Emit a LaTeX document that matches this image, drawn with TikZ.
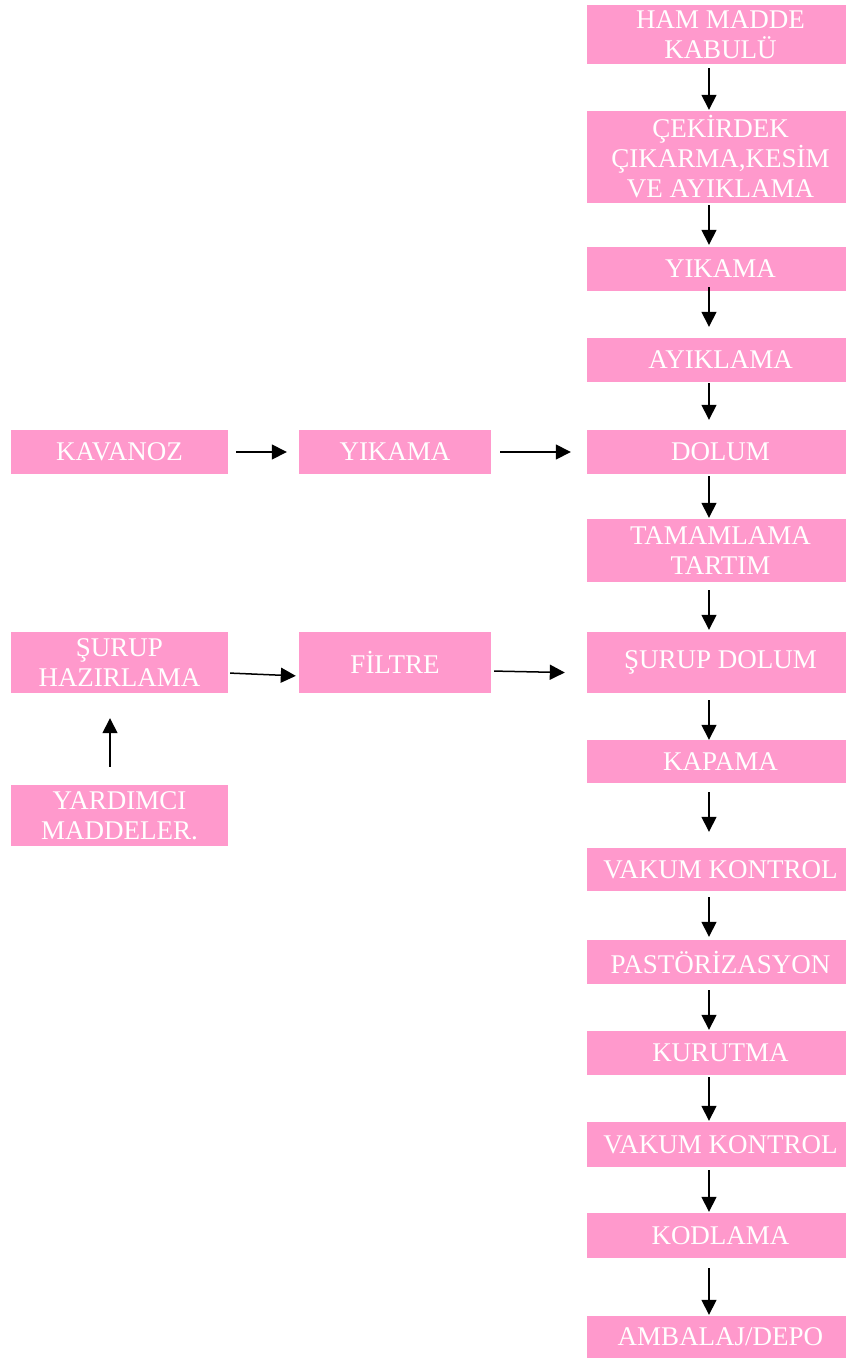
\documentclass[tikz,border=0pt]{standalone}
\usepackage{fontspec}
\setmainfont{Liberation Serif}
\usetikzlibrary{arrows.meta}
\definecolor{boxpink}{HTML}{FF99CC}
\begin{document}
\begin{tikzpicture}[x=1pt,y=-1pt,
  box/.style={fill=boxpink, draw=none, text=white, inner sep=0pt, align=center,
    font=\fontsize{27}{30}\selectfont},
  colbox/.style={box, minimum width=267pt},
  sidebox/.style={box},
  arr/.style={-{Triangle[width=15pt,length=15pt]}, line width=1.5pt, black}]
\useasboundingbox (0,0) rectangle (846,1358);
% main line (boxes run off the right edge of the page)
\node[colbox, minimum height=59pt] (b1) at (720.5,34.5) {HAM MADDE\\KABULÜ};
\node[colbox, minimum height=92pt] (b2) at (720.5,157) {ÇEKİRDEK\\ÇIKARMA,KESİM\\VE AYIKLAMA};
\node[colbox, minimum height=44pt] (b3) at (720.5,269) {YIKAMA};
\node[colbox, minimum height=44pt] (b4) at (720.5,360) {AYIKLAMA};
\node[colbox, minimum height=44pt] (b5) at (720.5,452) {DOLUM};
\node[colbox, minimum height=63pt] (b6) at (720.5,550.5) {TAMAMLAMA\\TARTIM};
\node[colbox, minimum height=61pt] (b7) at (720.5,662.5) {ŞURUP DOLUM};
\node[colbox, minimum height=43pt] (b8) at (720.5,761.5) {KAPAMA};
\node[colbox, minimum height=43pt] (b9) at (720.5,869.5) {VAKUM KONTROL};
\node[colbox, minimum height=44pt] (b10) at (720.5,962) {PASTÖRİZASYON};
\node[colbox, minimum height=44pt] (b11) at (720.5,1053) {KURUTMA};
\node[colbox, minimum height=45pt] (b12) at (720.5,1144.5) {VAKUM KONTROL};
\node[colbox, minimum height=45pt] (b13) at (720.5,1235.5) {KODLAMA};
\node[colbox, minimum height=42pt] (b14) at (720.5,1337) {AMBALAJ/DEPO};
% side branches
\node[sidebox, minimum width=217pt, minimum height=44pt] (kav) at (119.5,452) {KAVANOZ};
\node[sidebox, minimum width=192pt, minimum height=44pt] (yik) at (395,452) {YIKAMA};
\node[sidebox, minimum width=217pt, minimum height=61pt] (sur) at (119.5,662.5) {ŞURUP\\HAZIRLAMA};
\node[sidebox, minimum width=192pt, minimum height=61pt] (fil) at (395,662.5) {FİLTRE};
\node[sidebox, minimum width=217pt, minimum height=61pt] (yar) at (119.5,815.5) {YARDIMCI\\MADDELER.};
% flow axis of the main line
\coordinate (ax) at (709,0);
\draw[arr, shorten <=4pt, shorten >=1pt] (b1.south -| ax) -- (b2.north -| ax);
\draw[arr, shorten <=2pt, shorten >=2pt] (b2.south -| ax) -- (b3.north -| ax);
\draw[arr, shorten <=-4pt, shorten >=11pt] (b3.south -| ax) -- (b4.north -| ax);
\draw[arr, shorten <=1pt, shorten >=10pt] (b4.south -| ax) -- (b5.north -| ax);
\draw[arr, shorten <=2pt, shorten >=1pt] (b5.south -| ax) -- (b6.north -| ax);
\draw[arr, shorten <=8pt, shorten >=2pt] (b6.south -| ax) -- (b7.north -| ax);
\draw[arr, shorten <=7pt, shorten >=0pt] (b7.south -| ax) -- (b8.north -| ax);
\draw[arr, shorten <=9pt, shorten >=16pt] (b8.south -| ax) -- (b9.north -| ax);
\draw[arr, shorten <=6pt, shorten >=3pt] (b9.south -| ax) -- (b10.north -| ax);
\draw[arr, shorten <=6pt, shorten >=1pt] (b10.south -| ax) -- (b11.north -| ax);
\draw[arr, shorten <=2pt, shorten >=1pt] (b11.south -| ax) -- (b12.north -| ax);
\draw[arr, shorten <=3pt, shorten >=1pt] (b12.south -| ax) -- (b13.north -| ax);
\draw[arr, shorten <=10pt, shorten >=1pt] (b13.south -| ax) -- (b14.north -| ax);
% side arrows
\draw[arr, shorten <=8pt, shorten >=12pt] (kav.east) -- (yik.west);
\draw[arr, shorten <=9pt, shorten >=16pt] (yik.east) -- (b5.west);
\draw[arr, shorten <=2pt, shorten >=3pt] ([yshift=-10.5pt]sur.east) -- ([yshift=-13.5pt]fil.west);
\draw[arr, shorten <=3pt, shorten >=22pt] ([yshift=-8.5pt]fil.east) -- ([yshift=-10.5pt]b7.west);
\draw[arr, shorten <=18pt, shorten >=25pt] ([xshift=-9.5pt]yar.north) -- ([xshift=-9.5pt]sur.south);
\end{tikzpicture}
\end{document}
